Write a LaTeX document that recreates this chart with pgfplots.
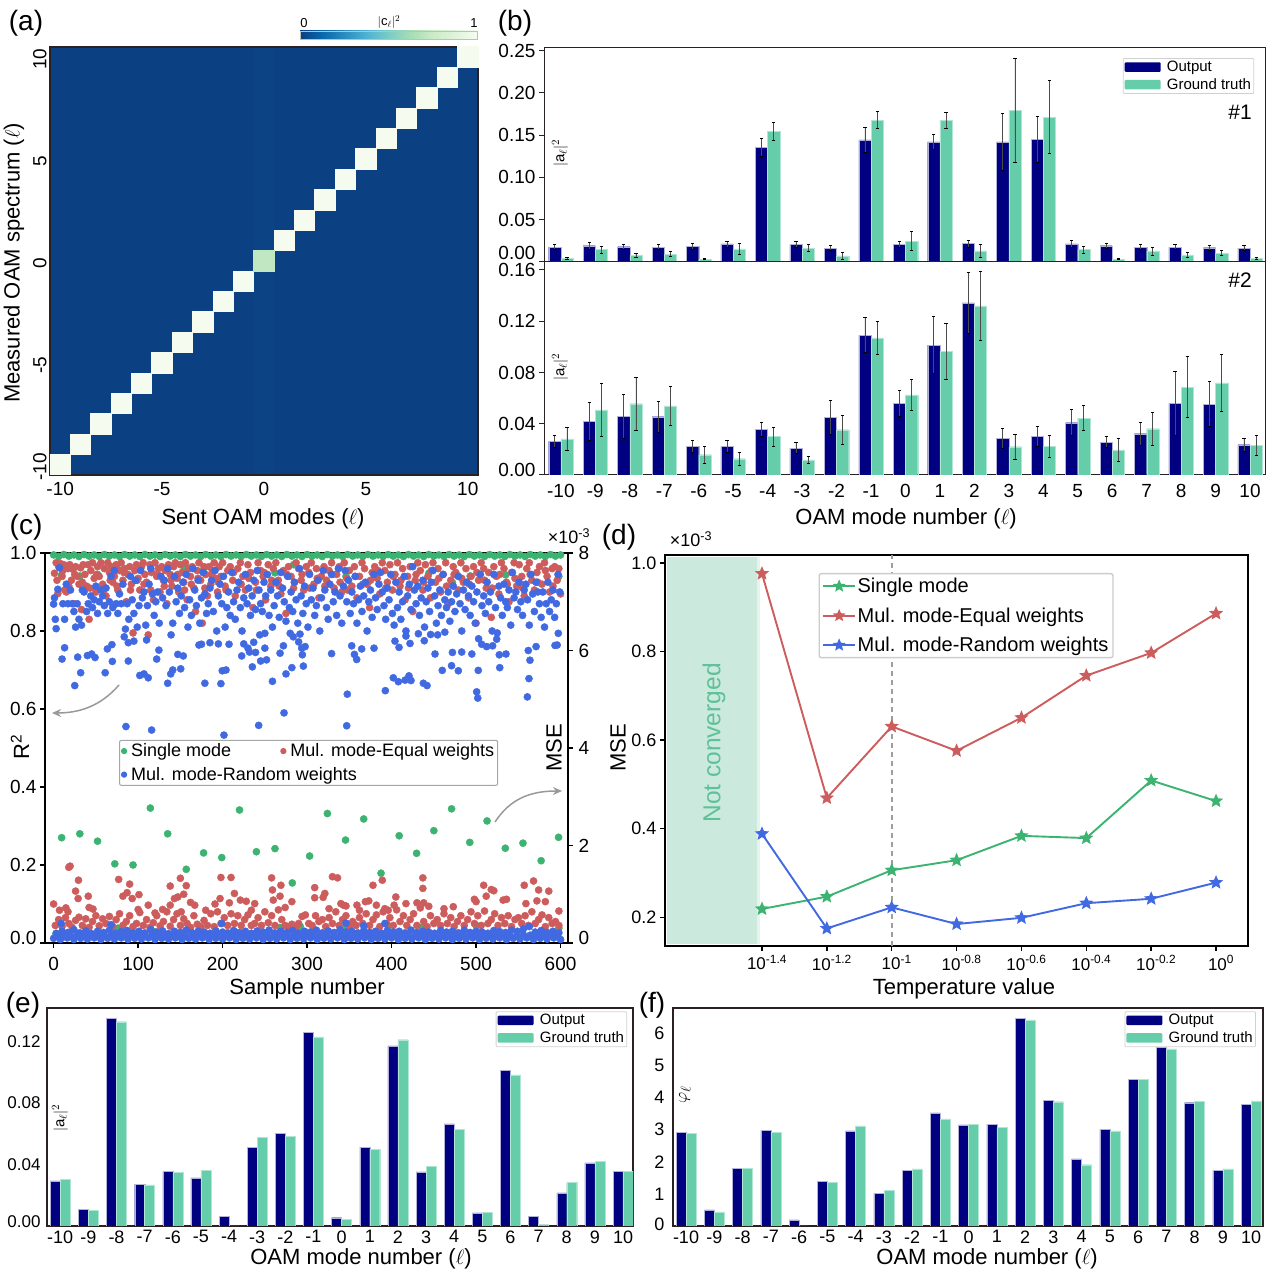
\documentclass[border=0pt]{standalone}
\usepackage{fontspec}
\setmainfont{Liberation Sans}
\usepackage{pgfplots}
\usepackage{pgfplotstable}
\pgfplotsset{compat=1.18}
\usetikzlibrary{arrows.meta}
\definecolor{nv}{HTML}{000080}
\definecolor{gt}{HTML}{66CDAA}
\definecolor{rd}{HTML}{CD5C5C}
\definecolor{gr}{HTML}{3CB371}
\definecolor{bl}{HTML}{4169E1}
\definecolor{hbg}{HTML}{0B4083}
\definecolor{hcol}{HTML}{0C4385}
\definecolor{hd}{HTML}{F5FBEF}
\definecolor{hc}{HTML}{C0E6C2}
\definecolor{sp}{HTML}{2A2222}
\definecolor{ncv}{HTML}{5FC198}
\definecolor{shd}{HTML}{CCE9DE}
\definecolor{cm0}{HTML}{084081}\definecolor{cm1}{HTML}{0868AC}\definecolor{cm2}{HTML}{2B8CBE}
\definecolor{cm3}{HTML}{4EB3D3}\definecolor{cm4}{HTML}{7BCCC4}\definecolor{cm5}{HTML}{A8DDB5}
\definecolor{cm6}{HTML}{CCEBC5}\definecolor{cm7}{HTML}{E0F3DB}\definecolor{cm8}{HTML}{F7FCF0}
\pgfdeclarehorizontalshading{gnbu}{100bp}{color(0bp)=(cm0);color(25bp)=(cm0);color(31.25bp)=(cm1);color(37.5bp)=(cm2);color(43.75bp)=(cm3);color(50bp)=(cm4);color(56.25bp)=(cm5);color(62.5bp)=(cm6);color(68.75bp)=(cm7);color(75bp)=(cm8);color(100bp)=(cm8)}
\pgfdeclareplotmark{fstar}{%
\pgfpathmoveto{\pgfpointpolar{90}{\pgfplotmarksize}}%
\pgfpathlineto{\pgfpointpolar{126}{0.45\pgfplotmarksize}}\pgfpathlineto{\pgfpointpolar{162}{\pgfplotmarksize}}%
\pgfpathlineto{\pgfpointpolar{198}{0.45\pgfplotmarksize}}\pgfpathlineto{\pgfpointpolar{234}{\pgfplotmarksize}}%
\pgfpathlineto{\pgfpointpolar{270}{0.45\pgfplotmarksize}}\pgfpathlineto{\pgfpointpolar{306}{\pgfplotmarksize}}%
\pgfpathlineto{\pgfpointpolar{342}{0.45\pgfplotmarksize}}\pgfpathlineto{\pgfpointpolar{18}{\pgfplotmarksize}}%
\pgfpathlineto{\pgfpointpolar{54}{0.45\pgfplotmarksize}}\pgfpathclose\pgfusepathqfillstroke}
\newcommand{\fs}[1]{\fontsize{#1}{#1}\selectfont}
\newcommand{\oamlabels}{-10,-9,-8,-7,-6,-5,-4,-3,-2,-1,0,1,2,3,4,5,6,7,8,9,10}
\newcommand{\oamticks}{-10,-9,-8,-7,-6,-5,-4,-3,-2,-1,0,1,2,3,4,5,6,7,8,9,10}
\pgfplotsset{
 base/.style={scale only axis,anchor=south west,tick align=outside,major tick length=5pt,
   tick style={color=sp,line width=1pt},axis line style={color=sp},
   tick label style={font=\fs{19}},xtick pos=bottom,ytick pos=left,
   x tick label style={yshift=-1pt},y tick label style={xshift=0pt}},
 ebar/.style={error bars/.cd,y dir=both,y explicit,
   error bar style={line width=.7pt,black!70},
   error mark options={rotate=90,mark size=1.6pt,line width=.7pt,black}},
 nbar/.style={ybar,bar shift=0pt,fill=nv,draw=nv!30,line width=.3pt},
 gbar/.style={ybar,bar shift=0pt,fill=gt,draw=gt!50,line width=.3pt},
 barlegend/.style={legend image code/.code={\fill[##1,draw=none] (0pt,-4.7pt) rectangle (36pt,4.7pt);},
   legend cell align=left,
   legend style={font=\fs{15},draw=black!18,line width=.8pt,rounded corners=1pt,
     inner sep=1.5pt,row sep=3pt,nodes={inner sep=1.2pt},
     /tikz/every odd column/.append style={column sep=5pt}}},
}
\pgfplotstableread{
l n ne g ge
-10 .0177 .0032 .0043 .0014
-9 .0193 .004 .0146 .004
-8 .0181 .0033 .0075 .0022
-7 .0177 .003 .0094 .003
-6 .0185 .0035 .0035 .0008
-5 .0213 .0035 .0154 .0063
-4 .1358 .0108 .1547 .0106
-3 .0209 .0033 .0165 .0041
-2 .0165 .0032 .0071 .0039
-1 .1445 .015 .1677 .0098
0 .0209 .0032 .0248 .0112
1 .1421 .0091 .1677 .0095
2 .0217 .004 .013 .0077
3 .1421 .0333 .1795 .0614
4 .1449 .0268 .1713 .0431
5 .0213 .004 .0146 .0041
6 .0193 .003 .0035 .0008
7 .0177 .0032 .013 .0047
8 .0177 .0028 .0083 .0028
9 .0169 .0028 .0106 .0026
10 .0165 .0032 .0043 .0012
}\tba
\pgfplotstableread{
l n ne g ge
-10 .0262 .0044 .0281 .009
-9 .0421 .0148 .0509 .0206
-8 .046 .0171 .0556 .0206
-7 .0455 .0119 .054 .0152
-6 .0226 .0047 .0158 .0065
-5 .0223 .0047 .0127 .0052
-4 .0358 .0053 .0301 .0074
-3 .021 .0044 .0117 .0026
-2 .0449 .0135 .0353 .0113
-1 .1091 .0136 .107 .0127
0 .0558 .0104 .0626 .0121
1 .1013 .0223 .0966 .0221
2 .1343 .0235 .1319 .0268
3 .0286 .0077 .0221 .0099
4 .0304 .0079 .0223 .0084
5 .0408 .0101 .0444 .0096
6 .0257 .0044 .0195 .0087
7 .0322 .0087 .0361 .0129
8 .0558 .0247 .0686 .024
9 .0553 .0177 .0719 .0221
10 .0236 .0049 .0229 .0078
}\tbb
\pgfplotstableread{
l n g
-10 .0293 .0304
-9 .0109 .0102
-8 .135 .1328
-7 .0271 .0267
-6 .0354 .0347
-5 .0313 .0362
-4 .0061 0
-3 .051 .0577
-2 .0603 .0584
-1 .1259 .123
0 .0054 .0043
1 .0512 .0499
2 .117 .1211
3 .0352 .0386
4 .0664 .0629
5 .0085 .0089
6 .1013 .0983
7 .0063 .0011
8 .0215 .0284
9 .041 .0419
10 .0356 .0356
}\tbe
\pgfplotstableread{
l n g
-10 2.91 2.89
-9 .5 .44
-8 1.79 1.79
-7 2.98 2.92
-6 .187 0
-5 1.39 1.37
-4 2.96 3.12
-3 1.02 1.11
-2 1.74 1.78
-1 3.52 3.34
0 3.15 3.17
1 3.17 3.07
2 6.47 6.42
3 3.92 3.87
4 2.09 1.91
5 3.01 2.96
6 4.56 4.57
7 5.58 5.52
8 3.84 3.89
9 1.73 1.78
10 3.78 3.9
}\tbf
\begin{document}
\begin{tikzpicture}[x=1pt,y=1pt]
\useasboundingbox (0,0) rectangle (1268,1273);
% ---------- (a)
\begin{axis}[base,at={(50pt,798pt)},width=428pt,height=428pt,xmin=-10.5,xmax=10.5,ymin=-10.5,ymax=10.5,
 axis line style={line width=2pt,color=sp},axis background/.style={fill=hbg},
 xtick={-10,-5,0,5,10},ytick={-10,-5,0,5,10},major tick length=0pt,
 xticklabels={-10,-5,0,5,10},yticklabels={-10,-5,0,5,10},
 x tick label style={yshift=-3pt},
 y tick label style={rotate=90,anchor=south,xshift=-2pt},axis on top]
\addplot[fill=hcol,draw=none] coordinates {(-.5,-10.5)(.5,-10.5)(.5,10.5)(-.5,10.5)} --cycle;
\addplot[only marks,mark=square*,mark size=10.19pt,color=hd,mark options={line width=0pt}] coordinates {
(-10,-10)(-9,-9)(-8,-8)(-7,-7)(-6,-6)(-5,-5)(-4,-4)(-3,-3)(-2,-2)(-1,-1)(1,1)(2,2)(3,3)(4,4)(5,5)(6,6)(7,7)(8,8)(9,9)(10,10)};
\addplot[only marks,mark=square*,mark size=10.19pt,color=hc,mark options={line width=0pt}] coordinates {(0,0)};
\end{axis}
\path[shading=gnbu,draw=black!25,line width=.5pt] (300,1234) rectangle (477.5,1242);
\node[font=\fs{13}] at (304,1250) {0};
\node[font=\fs{13}] at (474,1250) {1};
\node[font=\fs{13}] at (389,1251) {$|$c$_\ell|^2$};
% ---------- (b) top
\begin{axis}[base,barlegend,at={(544pt,1011pt)},width=721pt,height=214pt,xmin=-10.49,xmax=10.435,ymin=0,ymax=.253,
 axis line style={line width=1pt},bar width=12.2pt,xtick=\empty,
 ytick={0,.05,.1,.15,.2,.25},yticklabels={\raisebox{18pt}{0.00},0.05,0.10,0.15,0.20,\raisebox{-6pt}{0.25}},
 legend style={at={(.985,.953)},anchor=north east}]
\addplot[nbar,ebar] table[x expr=\thisrow{l}-.177,y=n,y error=ne]{\tba};
\addplot[gbar,ebar] table[x expr=\thisrow{l}+.177,y=g,y error=ge]{\tba};
\legend{Output,Ground truth}
\end{axis}
% ---------- (b) bottom
\begin{axis}[base,at={(544pt,798pt)},width=721pt,height=213pt,xmin=-10.49,xmax=10.435,ymin=0,ymax=.1662,
 axis line style={line width=1pt},bar width=12.2pt,major x tick style={draw=none},
 xtick={\oamticks},xticklabels/.expand once={\oamlabels},
 ytick={0,.04,.08,.12,.16},yticklabels={\raisebox{10pt}{0.00},0.04,0.08,0.12,\raisebox{-14pt}{0.16}}]
\addplot[nbar,ebar] table[x expr=\thisrow{l}-.177,y=n,y error=ne]{\tbb};
\addplot[gbar,ebar] table[x expr=\thisrow{l}+.177,y=g,y error=ge]{\tbb};
\end{axis}
\node[font=\fs{21}] at (1240,1161) {\#1};
\node[font=\fs{21}] at (1240,993) {\#2};
\node[font=\fs{15},rotate=90] at (560,1120) {$|$a$_\ell|^2$};
\node[font=\fs{15},rotate=90] at (560,906) {$|$a$_\ell|^2$};
% ---------- (c)
\begin{axis}[base,at={(45pt,330pt)},width=523pt,height=390pt,xmin=-10.2,xmax=608.8,ymin=0,ymax=1,
 axis line style={line width=2.6pt,color=black},tick style={line width=1.6pt,color=black},
 xtick={0,100,200,300,400,500,600},xticklabels={0,100,200,300,400,500,600},
 x tick label style={yshift=-5pt},
 ytick={0,.2,.4,.6,.8,1},yticklabels={\raisebox{10pt}{0.0},0.2,0.4,0.6,0.8,\raisebox{-6pt}{1.0}},
 xtick pos=bottom,ytick pos=left,
 legend style={at={(.1415,.521)},anchor=north west,font=\fs{18},draw=black!35,line width=1pt,rounded corners=2pt,
   inner sep=2pt,row sep=6pt,legend columns=2,nodes={inner sep=1.5pt},
   /tikz/every odd column/.append style={column sep=3pt},
   /tikz/every even column/.append style={column sep=48pt}},
 legend cell align=left,legend image post style={mark size=2.6pt}]
\addplot[only marks,mark=*,mark size=3.6pt,color=gr] table{
0 .995
6 .991
12 .996
18 .992
24 .995
30 .991
36 .996
42 .992
48 .995
54 .991
60 .996
66 .992
72 .995
78 .991
84 .996
90 .992
96 .995
102 .991
108 .996
114 .992
120 .995
126 .991
132 .996
138 .992
144 .995
150 .991
156 .996
162 .992
168 .995
174 .991
180 .996
186 .992
192 .995
198 .991
204 .996
210 .992
216 .995
222 .991
228 .996
234 .992
240 .995
246 .991
252 .996
258 .992
264 .995
270 .991
276 .996
282 .992
288 .995
294 .991
300 .996
306 .992
312 .995
318 .991
324 .996
330 .992
336 .995
342 .991
348 .996
354 .992
360 .995
366 .991
372 .996
378 .992
384 .995
390 .991
396 .996
402 .992
408 .995
414 .991
420 .996
426 .992
432 .995
438 .991
444 .996
450 .992
456 .995
462 .991
468 .996
474 .992
480 .995
486 .991
492 .996
498 .992
504 .995
510 .991
516 .996
522 .992
528 .995
534 .991
540 .996
546 .992
552 .995
558 .991
564 .996
570 .992
576 .995
582 .991
588 .996
594 .992
600 .995
9.5 .944
31 .941
52 .945
75 .962
155 .962
177 .955
262 .949
284 .97
346 .94
444 .948
472 .924
493 .941
535 .944
598 .94
9.5 .27
31 .28
52 .261
72.4 .203
94 .2
114.5 .346
135 .28
157 .189
177.5 .231
199 .219
220 .341
240 .234
262 .242
282.5 .154
303 .223
324 .332
345.5 .264
367 .318
387.5 .179
409 .275
429.6 .23
450 .288
471 .344
492.5 .258
513 .313
534.6 .243
555.5 .256
577 .211
597.6 .271
3 .025
40 .03
76 .038
118 .03
160 .036
214 .03
268 .04
292 .042
345 .038
396 .044
436 .04
500 .045
598 .038
};
\addlegendentry{Single mode}
\addplot[only marks,mark=*,mark size=3.6pt,color=rd] table{
1 .948
3 .975
5 .896
6 .965
8 .973
10 .94
12 .97
13 .905
15 .90
17 .96
19 .97
21 .93
23 .958
24 .87
26 .965
28 .94
30 .92
32 .962
33 .855
35 .97
37 .945
39 .915
41 .97
42 .83
44 .955
46 .975
48 .935
50 .90
52 .965
54 .94
56 .975
58 .92
60 .96
62 .89
64 .975
66 .95
68 .965
70 .925
72 .94
74 .97
76 .905
78 .955
80 .975
82 .93
84 .96
86 .875
88 .945
90 .965
92 .92
94 .795
96 .955
98 .97
100 .935
102 .905
104 .965
106 .975
108 .945
110 .925
112 .79
114 .97
116 .95
118 .88
120 .975
122 .94
124 .96
126 .90
128 .965
130 .93
132 .955
134 .87
136 .97
138 .945
140 .915
142 .965
144 .975
146 .935
148 .90
150 .97
152 .95
154 .925
156 .975
158 .88
160 .96
162 .94
164 .965
166 .91
168 .85
170 .955
172 .975
174 .93
176 .82
178 .965
180 .945
182 .89
184 .965
186 .92
188 .955
190 .975
192 .935
194 .90
196 .965
198 .94
200 .975
203 .915
206 .955
209 .965
212 .93
215 .89
218 .96
221 .975
224 .94
227 .905
230 .97
233 .95
236 .86
239 .925
242 .975
245 .955
248 .94
251 .88
254 .97
257 .915
260 .96
263 .975
266 .93
269 .895
272 .955
275 .845
278 .965
281 .94
284 .91
287 .975
290 .96
293 .93
296 .905
299 .965
302 .95
305 .975
308 .92
311 .96
314 .885
317 .94
320 .965
323 .93
326 .955
329 .975
332 .91
335 .945
338 .965
341 .90
344 .975
347 .935
350 .955
353 .915
356 .965
359 .885
362 .94
365 .975
368 .96
371 .92
374 .86
377 .95
380 .965
383 .935
386 .895
389 .975
392 .955
395 .925
398 .97
401 .905
404 .945
407 .975
410 .915
413 .96
416 .88
419 .94
422 .965
425 .85
428 .93
431 .975
434 .955
437 .905
440 .97
443 .94
446 .885
449 .975
452 .925
455 .96
458 .90
461 .945
464 .975
467 .87
470 .93
473 .965
476 .95
479 .905
482 .975
485 .925
488 .96
491 .885
494 .94
497 .965
500 .82
503 .93
506 .975
509 .96
512 .91
515 .95
518 .835
521 .965
524 .94
527 .895
530 .975
533 .96
536 .925
539 .875
542 .95
545 .975
548 .915
551 .97
554 .94
557 .89
560 .96
563 .975
566 .93
569 .905
572 .95
575 .965
578 .92
581 .975
584 .94
587 .90
590 .96
593 .965
596 .93
598 .96
600 .895
4 .93
11 .955
18 .915
25 .945
34 .925
43 .91
51 .945
59 .905
67 .93
75 .915
83 .95
91 .905
99 .93
107 .92
115 .905
123 .945
131 .915
139 .93
147 .945
155 .905
163 .92
171 .935
179 .91
187 .945
195 .925
204 .905
213 .95
222 .92
231 .935
240 .905
249 .95
258 .93
267 .915
276 .945
285 .925
294 .945
303 .91
312 .935
321 .915
330 .945
339 .925
348 .905
357 .94
366 .92
375 .93
384 .955
393 .91
402 .94
411 .93
420 .91
429 .945
438 .925
447 .955
456 .935
465 .915
474 .945
483 .935
492 .92
501 .95
510 .93
519 .91
528 .945
537 .92
546 .935
555 .91
564 .945
573 .925
582 .955
591 .915
0 .10
7 .084
18 .194
19.5 .197
29.4 .161
26 .133
29 .114
41 .12
14.5 .09
17 .08
42 .091
46.6 .087
77 .163
82 .12
87 .129
90 .151
93 .114
101 .124
100 .086
112 .097
129 .086
120 .077
138 .146
150 .166
157 .147
154 .125
143 .114
147 .118
138 .097
151 .08
162 .104
167 .097
180 .084
191 .1
197 .114
198 .168
210 .168
214 .127
208 .103
221 .11
228 .107
238 .101
234 .084
258 .167
260 .11
259 .136
269 .148
268 .12
274 .091
282 .106
309 .142
309 .116
321 .127
319 .117
330 .17
336 .167
326 .088
340 .101
343 .097
346 .095
359 .097
362 .084
369 .106
373 .108
378 .148
389 .161
382 .097
403 .097
405 .118
396 .084
392 .088
417 .101
437 .167
437 .14
430 .103
438 .103
444 .094
462 .088
473 .093
498 .112
500 .106
509 .148
512 .12
518 .137
521 .134
532 .11
536 .112
557 .148
559 .101
568 .159
574 .136
572 .108
582 .106
586 .133
598 .082
2 .045
6 .06
10 .042
14 .065
18 .05
22 .04
26 .058
30 .066
34 .045
38 .062
42 .04
46 .055
50 .07
54 .044
58 .062
62 .05
66 .068
70 .042
74 .06
78 .075
82 .045
86 .055
90 .07
94 .042
98 .05
102 .078
106 .045
110 .06
114 .04
118 .052
122 .07
126 .044
130 .055
134 .08
138 .043
142 .06
146 .075
150 .045
154 .062
158 .05
162 .04
166 .07
170 .048
174 .042
178 .058
182 .045
186 .075
190 .042
194 .08
198 .05
202 .065
206 .045
210 .075
214 .05
218 .07
222 .045
226 .06
230 .072
234 .045
238 .05
242 .065
246 .045
250 .08
254 .052
258 .07
262 .045
266 .085
270 .06
274 .045
278 .042
282 .048
286 .04
290 .05
294 .068
298 .072
302 .05
306 .045
310 .07
314 .055
318 .06
322 .042
326 .065
330 .05
334 .08
338 .045
342 .06
346 .07
350 .042
354 .055
358 .045
362 .065
366 .05
370 .075
374 .045
378 .06
382 .072
386 .042
390 .08
394 .05
398 .065
402 .045
406 .085
410 .055
414 .07
418 .045
422 .06
426 .075
430 .045
434 .09
438 .055
442 .042
446 .07
450 .05
454 .06
458 .045
462 .075
466 .05
470 .065
474 .042
478 .055
482 .07
486 .045
490 .06
494 .08
498 .05
502 .07
506 .045
510 .082
514 .05
518 .06
522 .075
526 .045
530 .065
534 .05
538 .07
542 .042
546 .06
550 .065
554 .05
558 .07
562 .045
566 .08
570 .05
574 .06
578 .072
582 .042
586 .065
590 .05
594 .055
598 .045
};
\addlegendentry{Mul. mode-Equal weights}
\addplot[only marks,mark=*,mark size=3.6pt,color=bl] table{
0 .869
1 .885
2 .83
5 .907
3 .806
7 .962
11 .87
13 .83
15 .92
17 .87
20 .905
22 .87
24 .85
26 .81
28 .87
30 .83
33 .815
34 .905
36 .90
39 .85
41 .87
44 .89
46 .86
48 .88
50 .915
52 .845
54 .875
56 .905
58 .89
60 .865
62 .91
64 .845
66 .875
68 .94
70 .86
72 .955
74 .87
76 .845
78 .895
80 .87
82 .92
85 .805
87 .87
89 .83
91 .94
93 .88
95 .845
97 .93
99 .81
101 .865
103 .955
105 .885
107 .90
109 .815
111 .865
113 .92
115 .96
117 .895
119 .84
121 .875
123 .90
125 .82
127 .94
129 .885
131 .93
133 .865
135 .96
137 .90
139 .79
141 .82
143 .94
145 .875
147 .91
149 .845
151 .89
153 .925
155 .86
157 .945
159 .81
161 .88
163 .84
165 .96
167 .905
169 .865
171 .93
173 .82
175 .885
177 .95
179 .895
181 .845
183 .87
185 .91
187 .93
189 .85
191 .955
193 .80
195 .89
197 .92
199 .87
201 .94
203 .81
205 .86
207 .90
209 .84
211 .95
213 .875
215 .83
217 .905
219 .925
221 .86
223 .80
225 .885
227 .945
229 .87
231 .91
233 .84
235 .89
237 .93
239 .855
241 .955
243 .905
245 .87
247 .85
249 .925
251 .89
253 .945
255 .84
257 .905
259 .81
261 .865
263 .925
265 .89
267 .835
269 .95
271 .91
273 .875
275 .825
277 .94
279 .86
281 .90
283 .85
285 .925
287 .88
289 .82
291 .96
293 .89
295 .845
297 .915
299 .87
301 .81
303 .945
305 .88
307 .91
309 .84
311 .865
313 .93
315 .80
317 .885
319 .955
321 .905
323 .86
325 .83
327 .92
329 .945
331 .875
333 .90
335 .84
337 .96
339 .89
341 .82
343 .915
345 .955
347 .875
349 .93
351 .845
353 .90
355 .87
357 .94
359 .82
361 .88
363 .915
365 .85
367 .89
369 .925
371 .80
373 .875
375 .905
377 .835
379 .945
381 .885
383 .855
385 .92
387 .95
389 .90
391 .865
393 .83
395 .91
397 .88
399 .945
401 .845
403 .815
405 .925
407 .86
409 .90
411 .83
413 .875
415 .94
417 .80
419 .89
421 .92
423 .855
425 .965
427 .905
429 .87
431 .915
433 .84
435 .885
437 .93
439 .81
441 .875
443 .91
445 .85
447 .925
449 .955
451 .89
453 .82
455 .865
457 .905
459 .84
461 .945
463 .88
465 .86
467 .90
469 .825
471 .875
473 .915
475 .85
477 .895
479 .94
481 .87
483 .80
485 .905
487 .855
489 .925
491 .89
493 .84
495 .915
497 .875
499 .82
501 .90
503 .78
505 .945
507 .865
509 .89
511 .845
513 .925
515 .875
517 .90
519 .80
521 .945
523 .86
525 .795
527 .915
529 .885
531 .84
533 .92
535 .875
537 .86
539 .905
541 .815
543 .95
545 .885
547 .90
549 .855
551 .925
553 .875
555 .84
557 .905
559 .92
561 .88
563 .815
565 .945
567 .895
569 .85
571 .925
573 .90
575 .87
577 .835
579 .90
581 .81
583 .87
585 .925
587 .85
589 .88
591 .905
593 .835
595 .87
597 .945
599 .90
25 .66
10 .728
13 .757
28.5 .733
32 .693
40 .737
45 .741
49 .732
61 .693
63.6 .754
69 .765
69.5 .722
85.6 .555
116 .546
201.6 .533
242.7 .558
272.7 .59
88.4 .723
88.4 .77
95 .774
83.6 .785
102 .686
107 .69
112 .68
110 .777
124.6 .751
122 .728
135 .666
138.6 .69
141 .70
150.4 .703
147 .74
153.5 .736
179 .666
198 .665
199.6 .698
204 .70
185 .77
195 .767
207.6 .766
172 .764
175 .766
222.6 .736
225 .767
230 .756
231.8 .746
239 .745
236.8 .771
235.2 .708
245 .723
252 .726
250 .756
250 .794
244 .79
259 .671
268 .743
272 .762
282 .706
275 .69
295.6 .71
294.4 .739
290 .772
297.7 .76
293.6 .756
280 .794
283.6 .785
291.6 .792
347.6 .638
346.9 .557
392.6 .647
402 .68
408 .67
416 .674
420.6 .685
423 .673
437.6 .666
442 .66
451.4 .741
460 .699
471 .711
479 .698
472 .745
483 .746
495 .741
500.7 .644
502 .628
502.6 .699
528 .706
527.5 .739
535.4 .741
562.6 .678
560.7 .631
563.8 .725
561.8 .75
571 .76
593.4 .763
596 .764
597.3 .794
506.6 .766
512.5 .76
519.6 .762
524.4 .779
329 .742
356 .74
358.7 .727
352.8 .762
364.6 .754
379.2 .756
404 .774
408.8 .758
421.8 .768
417 .787
431.7 .793
438.7 .775
446.2 .791
454.5 .79
463 .797
0 .012
8 .009
16 .013
24 .009
32 .012
40 .01
48 .013
56 .009
64 .012
72 .01
80 .013
88 .009
96 .012
104 .01
112 .013
120 .009
128 .012
136 .01
144 .013
152 .009
160 .012
168 .01
176 .013
184 .009
192 .012
200 .01
208 .013
216 .009
224 .012
232 .01
240 .013
248 .009
256 .012
264 .01
272 .013
280 .009
288 .012
296 .01
304 .013
312 .009
320 .012
328 .01
336 .013
344 .009
352 .012
360 .01
368 .013
376 .009
384 .012
392 .01
400 .013
408 .009
416 .012
424 .01
432 .013
440 .009
448 .012
456 .01
464 .013
472 .009
480 .012
488 .01
496 .013
504 .009
512 .012
520 .01
528 .013
536 .009
544 .012
552 .01
560 .013
568 .009
576 .012
584 .01
592 .013
600 .009
4 .02
12 .02
20 .019
28 .021
36 .02
44 .019
52 .021
60 .02
68 .019
76 .021
84 .02
92 .019
100 .021
108 .02
116 .019
124 .021
132 .02
140 .019
148 .021
156 .02
164 .019
172 .021
180 .02
188 .019
196 .021
204 .02
212 .019
220 .021
228 .02
236 .019
244 .021
252 .02
260 .019
268 .021
276 .02
284 .019
292 .021
300 .02
308 .019
316 .021
324 .02
332 .019
340 .021
348 .02
356 .019
364 .021
372 .02
380 .019
388 .021
396 .02
404 .019
412 .021
420 .02
428 .019
436 .021
444 .02
452 .019
460 .021
468 .02
476 .019
484 .021
492 .02
500 .019
508 .021
516 .02
524 .019
532 .021
540 .02
548 .019
556 .021
564 .02
572 .019
580 .021
588 .02
596 .019
3 .024
9 .05
10 .03
17 .027
24 .034
31 .026
38 .031
45 .024
52 .03
59 .027
66 .033
68 .047
73 .025
80 .029
87 .032
94 .026
101 .03
108 .026
115 .034
122 .028
129 .031
136 .024
143 .03
150 .027
157 .033
164 .026
171 .03
178 .028
185 .025
192 .031
199 .05
200 .028
206 .026
213 .032
220 .027
227 .03
234 .025
241 .031
248 .028
255 .033
262 .026
269 .03
276 .027
283 .032
290 .025
297 .03
304 .028
311 .033
318 .026
325 .031
332 .027
339 .034
346 .051
346 .028
353 .03
360 .026
367 .044
367 .032
374 .027
381 .03
388 .025
392 .05
395 .032
402 .028
409 .03
416 .026
423 .033
430 .027
437 .03
444 .028
451 .025
458 .032
465 .028
472 .03
479 .026
486 .033
493 .027
500 .03
507 .028
514 .025
521 .032
528 .029
535 .027
542 .033
549 .03
556 .036
563 .042
570 .028
577 .032
584 .027
591 .03
598 .026
};
\addlegendentry{\rlap{Mul. mode-Random weights}}
\end{axis}
\begin{axis}[base,at={(45pt,330pt)},width=523pt,height=390pt,xmin=-10.2,xmax=608.8,ymin=0,ymax=8,
 axis x line=none,axis y line*=right,axis line style={line width=2.6pt,color=black,-},tick style={line width=1.6pt,color=black},
 y tick label style={xshift=2pt},
 ytick={0,2,4,6,8},yticklabels={\raisebox{10pt}{0},2,4,6,\raisebox{-4pt}{8}},ytick pos=right]
\addplot[draw=none,forget plot] coordinates {(0,0)(1,1)};
\end{axis}
\node[font=\fs{18}] at (569,737) {×10\textsuperscript{-3}};
\node[font=\fs{22}] at (307,284) {Sample number};
\node[font=\fs{22},rotate=90] at (20,526) {R\textsuperscript{2}};
\node[font=\fs{22},rotate=90] at (554,525) {MSE};
\draw[black!40,line width=1.5pt,-{Stealth[length=9pt,width=8pt]}] (119,588) .. controls (100,566) and (78,560) .. (52,560);
\draw[black!40,line width=1.5pt,-{Stealth[length=9pt,width=8pt]}] (495,451) .. controls (510,474) and (530,482) .. (562,482);
% ---------- (d)
\begin{axis}[base,at={(665pt,327pt)},width=583pt,height=391pt,xmin=-1.699,xmax=.0986,ymin=.1354,ymax=1.018,
 axis line style={line width=2.4pt,color=black},tick style={line width=1.4pt,color=black},
 tick label style={font=\fs{18}},
 xtick={-1.4,-1.2,-1,-.8,-.6,-.4,-.2,0},
 xticklabels={10\textsuperscript{-1.4},10\textsuperscript{-1.2},10\textsuperscript{-1},10\textsuperscript{-0.8},10\textsuperscript{-0.6},10\textsuperscript{-0.4},10\textsuperscript{-0.2},10\textsuperscript{0}},
 x tick label style={xshift=5pt,font=\fs{17}},
 ytick={.2,.4,.6,.8,1},yticklabels={0.2,0.4,0.6,0.8,1.0},
 legend cell align=left,
 legend image code/.code={\draw[mark repeat=2,mark phase=2,#1,mark size=4.3pt] plot coordinates {(0pt,0pt)(16pt,0pt)(32pt,0pt)};},
 legend style={at={(.2633,.954)},anchor=north west,font=\fs{20},draw=black!20,line width=1.4pt,rounded corners=2pt,
   inner sep=3pt,row sep=10.5pt,fill=white,nodes={inner sep=1.5pt}}]
\addplot[fill=shd,draw=none,forget plot] coordinates {(-1.692,.14)(-1.415,.14)(-1.415,1.013)(-1.692,1.013)} --cycle;
\addplot[fill=shd!50,draw=none,forget plot] coordinates {(-1.415,.14)(-1.405,.14)(-1.405,1.013)(-1.415,1.013)} --cycle;
\addplot[black!38,line width=1.6pt,dash pattern=on 5pt off 4pt,forget plot] coordinates {(-1,.1354)(-1,1.018)};
\addplot[gr,line width=1.9pt,mark=fstar,mark size=5pt,mark options={fill=gr}] coordinates {(-1.4,.219)(-1.2,.2468)(-1,.3064)(-.8,.329)(-.6,.384)(-.4,.379)(-.2,.509)(0,.4626)};
\addlegendentry{Single mode}
\addplot[rd,line width=1.9pt,mark=fstar,mark size=5pt,mark options={fill=rd}] coordinates {(-1.4,.976)(-1.2,.4694)(-1,.631)(-.8,.576)(-.6,.6506)(-.4,.7457)(-.2,.797)(0,.886)};
\addlegendentry{Mul. mode-Equal weights}
\addplot[bl,line width=1.9pt,mark=fstar,mark size=5pt,mark options={fill=bl}] coordinates {(-1.4,.3887)(-1.2,.175)(-1,.2226)(-.8,.185)(-.6,.199)(-.4,.232)(-.2,.242)(0,.2785)};
\addlegendentry{Mul. mode-Random weights}
\end{axis}
\node[font=\fs{24.5},rotate=90,text=ncv] at (714,530) {Not converged};
\node[font=\fs{18}] at (691,734) {×10\textsuperscript{-3}};
\node[font=\fs{22},rotate=90] at (618,525) {MSE};
\node[font=\fs{22}] at (964,284) {Temperature value};
% ---------- (e)
\begin{axis}[base,barlegend,at={(47pt,47pt)},width=586pt,height=218pt,xmin=-10.47,xmax=10.355,ymin=0,ymax=.1417,
 axis line style={line width=1.2pt},bar width=10pt,major x tick style={draw=none},
 tick label style={font=\fs{18}},
 xtick={\oamticks},xticklabels/.expand once={\oamlabels},x tick label style={yshift=5pt},
 ytick={0,.04,.08,.12},yticklabels={\raisebox{8pt}{0.00},0.04,0.08,0.12},
 y tick label style={xshift=2pt,font=\fs{17}},major y tick style={draw=none},
 legend style={at={(.99,.985)},anchor=north east}]
\addplot[nbar] table[x expr=\thisrow{l}-.177,y=n]{\tbe};
\addplot[gbar] table[x expr=\thisrow{l}+.177,y=g]{\tbe};
\legend{Output,Ground truth}
\end{axis}
% ---------- (f)
\begin{axis}[base,barlegend,at={(673pt,47pt)},width=590pt,height=218pt,xmin=-10.46,xmax=10.42,ymin=0,ymax=6.79,
 axis line style={line width=1.2pt},bar width=10pt,major x tick style={draw=none},
 tick label style={font=\fs{18}},
 xtick={\oamticks},xticklabels/.expand once={\oamlabels},x tick label style={yshift=5pt},
 ytick={0,1,2,3,4,5,6},yticklabels={\raisebox{4pt}{0},1,2,3,4,5,6},
 major y tick style={draw=none},
 legend style={at={(.988,.985)},anchor=north east}]
\addplot[nbar] table[x expr=\thisrow{l}-.177,y=n]{\tbf};
\addplot[gbar] table[x expr=\thisrow{l}+.177,y=g]{\tbf};
\legend{Output,Ground truth}
\end{axis}
\node[font=\fs{15},rotate=90] at (60,155) {$|$a$_\ell|^2$};
\node[font=\fs{19},rotate=90] at (685,178) {$\varphi_\ell$};
\node[font=\fs{22}] at (361,14) {OAM mode number ($\ell$)};
\node[font=\fs{22}] at (987,14) {OAM mode number ($\ell$)};
% ---------- labels
\node[font=\fs{22}] at (263,754) {Sent OAM modes ($\ell$)};
\node[font=\fs{22},rotate=90] at (14,1010) {Measured OAM spectrum ($\ell$)};
\node[font=\fs{22}] at (906,754) {OAM mode number ($\ell$)};
\node[font=\fs{28}] at (26,1250) {(a)};
\node[font=\fs{28}] at (515,1250) {(b)};
\node[font=\fs{28}] at (26,746) {(c)};
\node[font=\fs{28}] at (619,736) {(d)};
\node[font=\fs{28}] at (23,268) {(e)};
\node[font=\fs{28}] at (652,268) {(f)};
\end{tikzpicture}
\end{document}
